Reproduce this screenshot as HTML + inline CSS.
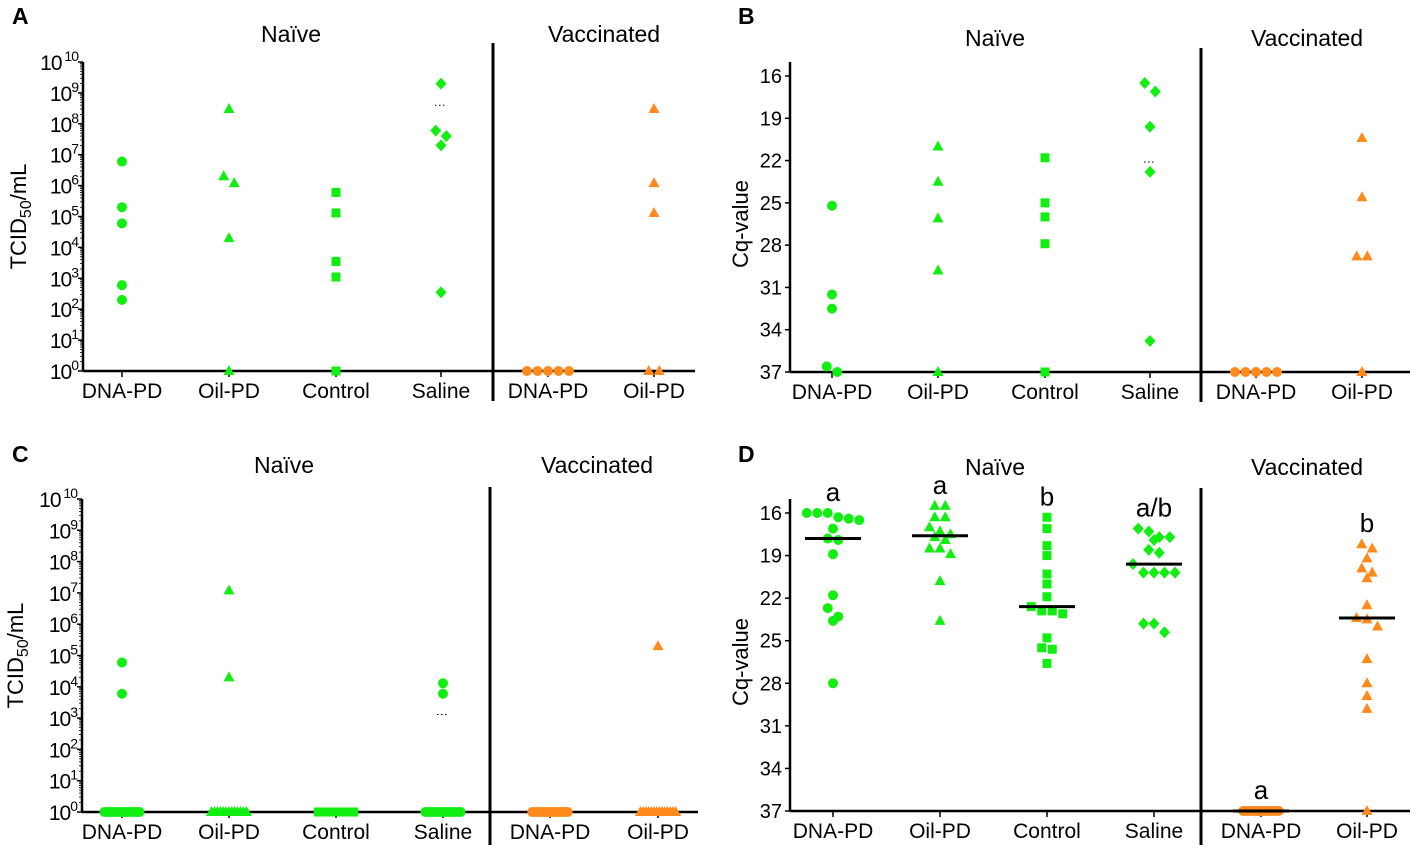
<!DOCTYPE html>
<html><head><meta charset="utf-8"><style>
html,body{margin:0;padding:0;background:#fff;}
svg{display:block;font-family:"Liberation Sans",Arial,sans-serif;}
</style></head><body>
<svg id="fig" width="1417" height="854" viewBox="0 0 1417 854"></svg>
<script>
const categories = ["DNA-PD","Oil-PD","Control","Saline","DNA-PD","Oil-PD"];
const shapesABD = ["circle","triangle","square","diamond","circle","triangle"];
const shapesC = ["circle","triangle","square","circle","circle","triangle"];
const groupColors = ["g","g","g","g","o","o"];
// Panel A (TCID50/mL, log)
const aDNA = [6e6,2e5,6e4,6e2,2e2];
const aOil = [3e8,1.2e6,2e6,2e4,1];
const aCtrl = [6e5,1.3e5,3.5e3,1.1e3,1];
const aSal = [2e9,4e7,6e7,2e7,3.5e2];
const aVDNA = [1,1,1,1,1];
const aVOil = [3e8,1.2e6,1.3e5,1,1];
const aMeanSaline = 4e8;
// Panel B (Cq)
const bDNA = [25.2,31.5,32.5,36.6,37];
const bOil = [21,23.5,26.1,29.8,37];
const bCtrl = [21.8,25,26,27.9,37];
const bSal = [16.5,17.1,19.6,22.8,34.8];
const bVDNA = [37,37,37,37,37];
const bVOil = [20.4,24.6,28.8,28.8,37];
const bMeanSaline = 22.1;
// Panel C (TCID50/mL, log)
const cDNA = [6e4,6e3,1,1,1,1,1,1,1,1,1,1,1,1,1];
const cOil = [1.2e7,2e4,1,1,1,1,1,1,1,1,1,1,1,1,1];
const cCtrl = [1,1,1,1,1,1,1,1,1,1,1,1,1,1,1];
const cSal = [1.3e4,6e3,1,1,1,1,1,1,1,1,1,1,1,1,1];
const cVDNA = [1,1,1,1,1,1,1,1,1,1,1,1,1,1,1];
const cVOil = [2e5,1,1,1,1,1,1,1,1,1,1,1,1,1,1];
const cMeanSaline = 1.3e3;
// Panel D (Cq)
const dDNA = [16.0,16.0,16.0,16.3,16.4,16.5,17.1,17.8,17.9,18.9,21.8,22.7,23.3,23.6,28.0];
const dOil = [15.5,15.5,16.3,16.3,17.0,17.3,17.5,17.7,17.9,18.5,18.5,18.9,20.8,23.6];
const dCtrl = [16.3,17.1,18.3,19.0,20.3,21.0,21.9,22.6,22.9,22.9,23.1,24.8,25.5,25.6,26.6];
const dSal = [17.1,17.3,17.7,17.7,17.9,18.6,18.8,19.6,20.2,20.2,20.2,20.2,23.8,23.8,24.4];
const dVDNA = [37,37,37,37,37,37,37,37,37,37,37,37,37,37,37];
const dVOil = [18.2,18.5,19.2,19.9,20.2,20.6,22.5,23.4,23.5,24.0,26.3,28.0,28.9,29.8,37];
const dLetters = ["a","a","b","a/b","a","b"];
const logTicks = [0,1,2,3,4,5,6,7,8,9,10];
const cqTicks = [16,19,22,25,28,31,34,37];

const NS="http://www.w3.org/2000/svg";
const svg=document.getElementById('fig');
const COL={g:"#12ee12",o:"#ff8a1c"};
function mk(tag,attrs,parent){const e=document.createElementNS(NS,tag);for(const k in attrs)e.setAttribute(k,attrs[k]);(parent||svg).appendChild(e);return e;}
function txt(x,y,s,size,anchor,parent,weight){const t=mk('text',{x:x,y:y,'font-size':size,'text-anchor':anchor||'middle','fill':'#000'},parent);if(weight)t.setAttribute('font-weight',weight);t.textContent=s;return t;}

function marker(g,shape,x,y,c){
  let e;
  if(shape==='circle') e=mk('circle',{cx:x,cy:y,r:5,fill:c},g);
  else if(shape==='square') e=mk('rect',{x:x-4.5,y:y-4.5,width:9,height:9,fill:c},g);
  else if(shape==='triangle') e=mk('polygon',{points:`${x},${y-6} ${x+5.5},${y+4} ${x-5.5},${y+4}`,fill:c},g);
  else e=mk('polygon',{points:`${x},${y-6} ${x+5.5},${y} ${x},${y+6} ${x-5.5},${y}`,fill:c},g);
  
  
}

function panel(cfg){
  const g=mk('g',{});
  
  
  const yScale = cfg.log
    ? v=>cfg.yTop+(10-Math.log10(Math.max(v,1)))/10*(cfg.yBot-cfg.yTop)
    : v=>cfg.yTop+(v-16)/21*(cfg.yBot-cfg.yTop);
  const top = cfg.log?cfg.yTop:cfg.yTop-14;
  const L=txt(cfg.letterX,cfg.letterY,cfg.letter,23,'start',g,'bold');
  
  const t1=txt(cfg.naiveX,cfg.titleY,'Naïve',23,'middle',g);
  
  const t2=txt(cfg.vaccX,cfg.titleY,'Vaccinated',23,'middle',g);
  
  const ya=mk('line',{x1:cfg.ox,y1:top,x2:cfg.ox,y2:cfg.yBot,stroke:'#000','stroke-width':2.5},g);
  
  const xa=mk('line',{x1:cfg.ox,y1:cfg.yBot,x2:cfg.xr,y2:cfg.yBot,stroke:'#000','stroke-width':2.5},g);
  
  const dv=mk('line',{x1:cfg.divX,y1:cfg.divTop,x2:cfg.divX,y2:cfg.divBot,stroke:'#000','stroke-width':3},g);
  
  if(cfg.log){
    logTicks.forEach(p=>{
      const y=yScale(Math.pow(10,p));
      mk('line',{x1:cfg.ox-5,y1:y,x2:cfg.ox,y2:y,stroke:'#000','stroke-width':1.5},g);
      if(p<10) for(let m=2;m<10;m++){const ym=yScale(m*Math.pow(10,p));mk('line',{x1:cfg.ox-3,y1:ym,x2:cfg.ox,y2:ym,stroke:'#000','stroke-width':0.8},g);}
      const t=mk('text',{x:cfg.ox-5,y:y+8,'font-size':21,'text-anchor':'end','letter-spacing':'-1'},g);
      
      const a=mk('tspan',{},t);a.textContent='10';
      const b=mk('tspan',{dy:-9,'font-size':14},t);b.textContent=(p===10?' ':'')+p;
    });
    const yl=mk('text',{transform:`translate(${cfg.ylX},${(cfg.yTop+cfg.yBot)/2}) rotate(-90)`,'font-size':22,'text-anchor':'middle'},g);
    
    const s1=mk('tspan',{},yl);s1.textContent='TCID';
    const s2=mk('tspan',{dy:5,'font-size':16},yl);s2.textContent='50';
    const s3=mk('tspan',{dy:-5},yl);s3.textContent='/mL';
  } else {
    cqTicks.forEach(v=>{
      const y=yScale(v);
      mk('line',{x1:cfg.ox-5,y1:y,x2:cfg.ox,y2:y,stroke:'#000','stroke-width':1.5},g);
      const t=txt(cfg.ox-8,y+7,String(v),20,'end',g);
      
    });
    const yl=mk('text',{transform:`translate(${cfg.ylX},${(cfg.yTop+cfg.yBot)/2}) rotate(-90)`,'font-size':22,'text-anchor':'middle'},g);
    
    yl.textContent='Cq-value';
  }
  cfg.data.forEach((vals,i)=>{
    const cx=cfg.cats[i];
    mk('line',{x1:cx,y1:cfg.yBot,x2:cx,y2:cfg.yBot+6,stroke:'#000','stroke-width':1.5},g);
    const lab=txt(cx,cfg.yBot+27,categories[i],21,'middle',g);
    
    const pts=vals.map(v=>({v:v,y:yScale(v)})).sort((a,b)=>a.y-b.y);
    let clusters=[],cur=null;
    pts.forEach(p=>{if(!cur||p.y-cur.start>9){cur={start:p.y,items:[]};clusters.push(cur);}cur.items.push(p);});
    clusters.forEach(cl=>{
      const n=cl.items.length;const sp=n>=9?38/n:10.5;
      cl.items.forEach((p,k)=>marker(g,cfg.shapes[i],cx+(k-(n-1)/2)*sp,p.y,COL[groupColors[i]]));
    });
    if(cfg.median){
      const s=vals.slice().sort((a,b)=>a-b);const n=s.length;
      const med=n%2?s[(n-1)/2]:(s[n/2-1]+s[n/2])/2;
      const ml=mk('line',{x1:cx-28,y1:yScale(med),x2:cx+28,y2:yScale(med),stroke:'#000','stroke-width':3},g);
      
      const minY=Math.min(...vals.map(yScale));
      const lt=txt(cx,minY-12,dLetters[i],26,'middle',g);
      
    }
  });
  if(cfg.meanSal!==undefined){
    const y=yScale(cfg.meanSal);
    const m=mk('line',{x1:cfg.cats[3]-6,y1:y,x2:cfg.cats[3]+6,y2:y,stroke:'#000','stroke-width':1,'stroke-dasharray':'1.5,2.5'},g);
    
  }
}

panel({letter:'A',letterX:12,letterY:24,titleY:42,naiveX:291,vaccX:604,log:true,ox:83,yTop:62,yBot:371,xr:695,shapes:shapesABD,
  divX:493,divTop:43,divBot:401,ylX:26,cats:[122,229,336,441,548,654],data:[aDNA,aOil,aCtrl,aSal,aVDNA,aVOil],meanSal:aMeanSaline});
panel({letter:'B',letterX:738,letterY:24,titleY:46,naiveX:995,vaccX:1307,log:false,ox:790,yTop:76,yBot:372,xr:1410,shapes:shapesABD,
  divX:1201,divTop:48,divBot:402,ylX:748,cats:[832,938,1045,1150,1256,1362],data:[bDNA,bOil,bCtrl,bSal,bVDNA,bVOil],meanSal:bMeanSaline});
panel({letter:'C',letterX:12,letterY:462,titleY:473,naiveX:284,vaccX:597,log:true,ox:82,yTop:499,yBot:812,xr:698,shapes:shapesC,
  divX:490,divTop:487,divBot:845,ylX:23,cats:[122,229,336,443,550,658],data:[cDNA,cOil,cCtrl,cSal,cVDNA,cVOil],meanSal:cMeanSaline});
panel({letter:'D',letterX:738,letterY:462,titleY:475,naiveX:995,vaccX:1307,log:false,ox:790,yTop:513,yBot:811,xr:1410,shapes:shapesABD,
  divX:1201,divTop:488,divBot:845,ylX:748,cats:[833,940,1047,1154,1261,1367],data:[dDNA,dOil,dCtrl,dSal,dVDNA,dVOil],median:true});
</script>
</body></html>
